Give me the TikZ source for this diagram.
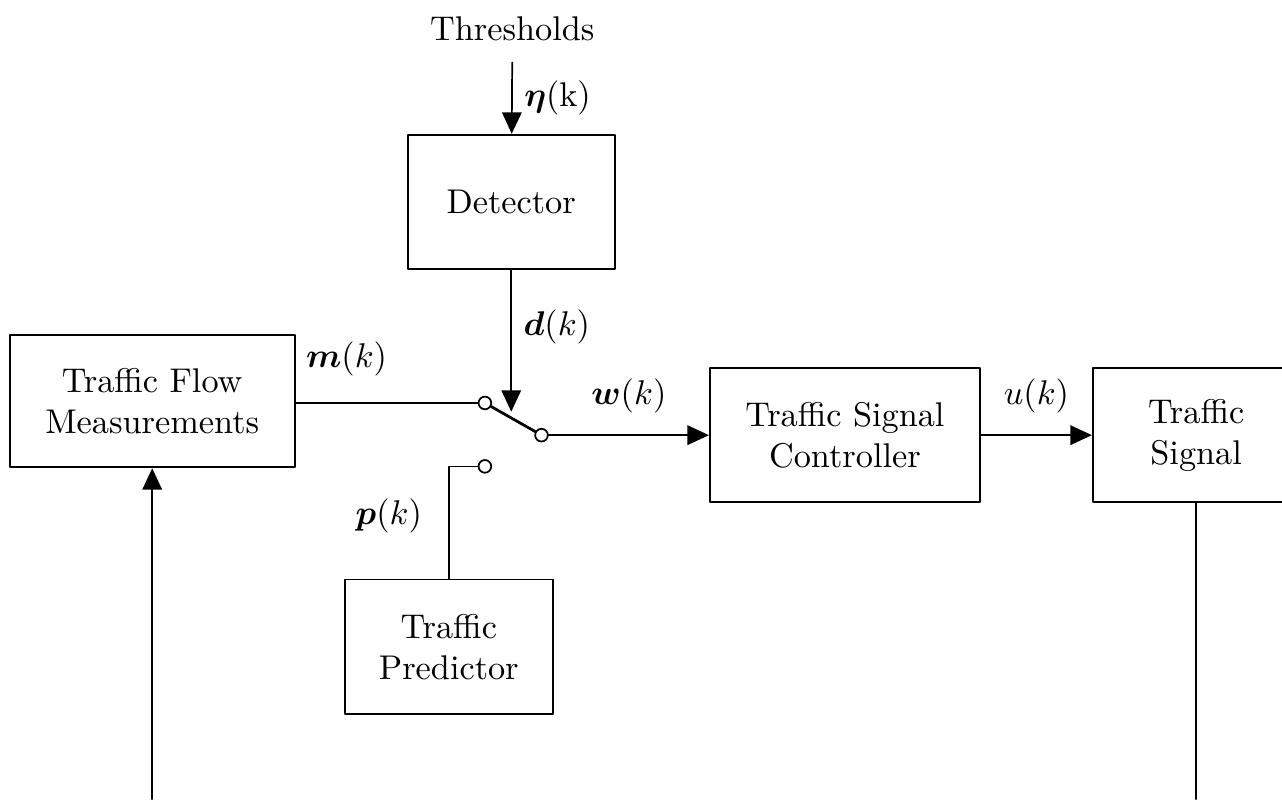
\documentclass[tikz,border=0pt]{standalone}
\usepackage{amsmath}
\usetikzlibrary{arrows.meta}
\begin{document}
\begin{tikzpicture}[line cap=round, line join=round, line width=0.5pt, >={Triangle[length=2.2mm,width=2mm]}]
	\tikzset{block/.style={draw, minimum width=2.12cm, minimum height=1.37cm, align=center},
		contact/.style={draw, circle, fill=white, inner sep=0pt, minimum size=1.3mm}}
	\useasboundingbox (0,0) rectangle (13.14,-8.19);
	\clip (0,0) rectangle (13.14,-8.19);
	% blocks
	\node (thr) at (5.25,-0.29) {Thresholds};
	\node[block, minimum height=1.38cm] (det) at (5.24,-2.07) {Detector};
	\node[block, minimum width=2.92cm, minimum height=1.36cm] (meas) at (1.56,-4.11) {Traffic Flow\\Measurements};
	\node[block, minimum width=2.77cm] (ctrl) at (8.66,-4.46) {Traffic Signal\\Controller};
	\node[block] (sig) at (12.26,-4.46) {Traffic\\Signal};
	\node[block, minimum width=2.13cm, minimum height=1.38cm] (pred) at (4.60,-6.63) {Traffic\\Predictor};
	% switch
	\node[contact] (swA) at (4.97,-4.13) {};
	\node[contact] (swB) at (5.55,-4.46) {};
	\node[contact] (swC) at (4.97,-4.78) {};
	\coordinate (tip) at (5.24,-4.22);
	\coordinate (bl) at (1.56,-8.19);
	\coordinate (br) at (12.26,-8.19);
	% signals
	\draw[->] ([yshift=-1mm]thr.south) -- (det) node[pos=0.5, right]{$\boldsymbol{\eta}(\mathrm{k})$};
	\draw[->] (det) -- (tip) node[pos=0.4, right]{$\boldsymbol{d}(k)$};
	\draw (meas.east |- swA) -- (swA) node[pos=0.28, above=1.5mm]{$\boldsymbol{m}(k)$};
	\draw[thick] (swA) -- (swB);
	\draw[->] (swB) -- (ctrl) node[midway, above=1mm]{$\boldsymbol{w}(k)$};
	\draw (swC) -| (pred) node[pos=0.72, left=1.5mm]{$\boldsymbol{p}(k)$};
	\draw[->] (ctrl) -- (sig) node[midway, above=1mm]{$u(k)$};
	\draw (sig) -- (br);
	\draw[->] (bl) -- (meas);
\end{tikzpicture}
\end{document}
